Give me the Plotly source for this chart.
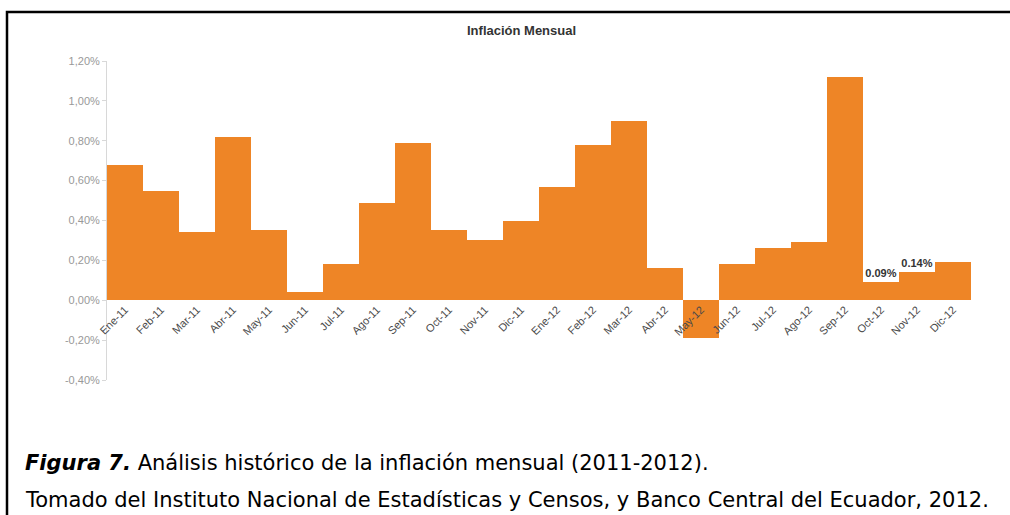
import plotly.graph_objects as go

# ---- data ----
months = ["Ene-11", "Feb-11", "Mar-11", "Abr-11", "May-11", "Jun-11",
          "Jul-11", "Ago-11", "Sep-11", "Oct-11", "Nov-11", "Dic-11",
          "Ene-12", "Feb-12", "Mar-12", "Abr-12", "May-12", "Jun-12",
          "Jul-12", "Ago-12", "Sep-12", "Oct-12", "Nov-12", "Dic-12"]
inflation = [0.68, 0.55, 0.34, 0.82, 0.35, 0.04,
             0.18, 0.49, 0.79, 0.35, 0.30, 0.40,
             0.57, 0.78, 0.90, 0.16, -0.19, 0.18,
             0.26, 0.29, 1.12, 0.09, 0.14, 0.19]
labelled_months = ["Oct-12", "Nov-12"]
y_tickvals = [-0.4, -0.2, 0.0, 0.2, 0.4, 0.6, 0.8, 1.0, 1.2]
y_ticktext = ["-0,40%", "-0,20%", "0,00%", "0,20%", "0,40%", "0,60%",
              "0,80%", "1,00%", "1,20%"]
title_text = "Inflación Mensual"
caption_1 = "<b><i>Figura 7.</i></b> Análisis histórico de la inflación mensual (2011-2012)."
caption_2 = "Tomado del Instituto Nacional de Estadísticas y Censos, y Banco Central del Ecuador, 2012."

# ---- layout geometry ----
W, H = 1010, 515
ML, MR, MT, MB = 107, 39, 61, 135
PW, PH = W - ML - MR, H - MT - MB
y_range = [-0.4, 1.2]


def px2x(px):
    return (px - ML) / PW


def py2y(py):
    return (H - MB - py) / PH


bar_text = [f"{v:.2f}%" if m in labelled_months else "" for m, v in zip(months, inflation)]

fig = go.Figure()
fig.add_trace(go.Bar(
    x=months, y=inflation,
    marker=dict(color="#EE8526", line=dict(width=0)),
    text=bar_text, textposition="outside",
    texttemplate="<b>%{text}</b>",
    textfont=dict(family="Liberation Sans", size=11, color="#333333"),
    cliponaxis=False,
    hoverinfo="x+y",
))

zero_pos = (0 - y_range[0]) / (y_range[1] - y_range[0])

fig.update_layout(
    width=W, height=H,
    margin=dict(l=ML, r=MR, t=MT, b=MB),
    paper_bgcolor="white", plot_bgcolor="white",
    bargap=0,
    showlegend=False,
    xaxis=dict(
        type="category", range=[-0.5, len(months) - 0.5],
        anchor="free", position=zero_pos,
        showline=False, showgrid=False, zeroline=False, ticks="",
        tickangle=-45,
        tickfont=dict(family="Liberation Sans", size=11, color="#4a4a4a"),
    ),
    yaxis=dict(
        range=y_range, tickvals=y_tickvals, ticktext=y_ticktext,
        showline=True, linecolor="#d8d8d8", linewidth=1,
        ticks="outside", ticklen=4, tickcolor="#d8d8d8",
        showgrid=False, zeroline=False,
        tickfont=dict(family="Liberation Sans", size=11, color="#999999"),
    ),
    font=dict(family="Liberation Sans"),
)

# title
fig.add_annotation(
    text=f"<b>{title_text}</b>", xref="paper", yref="paper",
    x=px2x(521), y=py2y(31), xanchor="center", yanchor="middle",
    showarrow=False, font=dict(family="Liberation Sans", size=13, color="#333333"),
)

# captions
fig.add_annotation(
    text=caption_1, xref="paper", yref="paper",
    x=px2x(23), y=py2y(463), xanchor="left", yanchor="middle",
    showarrow=False, font=dict(family="DejaVu Sans", size=21, color="black"),
)
fig.add_annotation(
    text=caption_2, xref="paper", yref="paper",
    x=px2x(23), y=py2y(500), xanchor="left", yanchor="middle",
    showarrow=False, font=dict(family="DejaVu Sans", size=21, color="black"),
)

# frame (top and left edges only)
x_l, x_r = px2x(7), px2x(1010)
y_t, y_b = py2y(12), py2y(515)
fig.add_shape(type="path", xref="paper", yref="paper",
              path=f"M {x_r},{y_t} L {x_l},{y_t} L {x_l},{y_b}",
              line=dict(color="black", width=2.5))

fig.write_html("out.html")
